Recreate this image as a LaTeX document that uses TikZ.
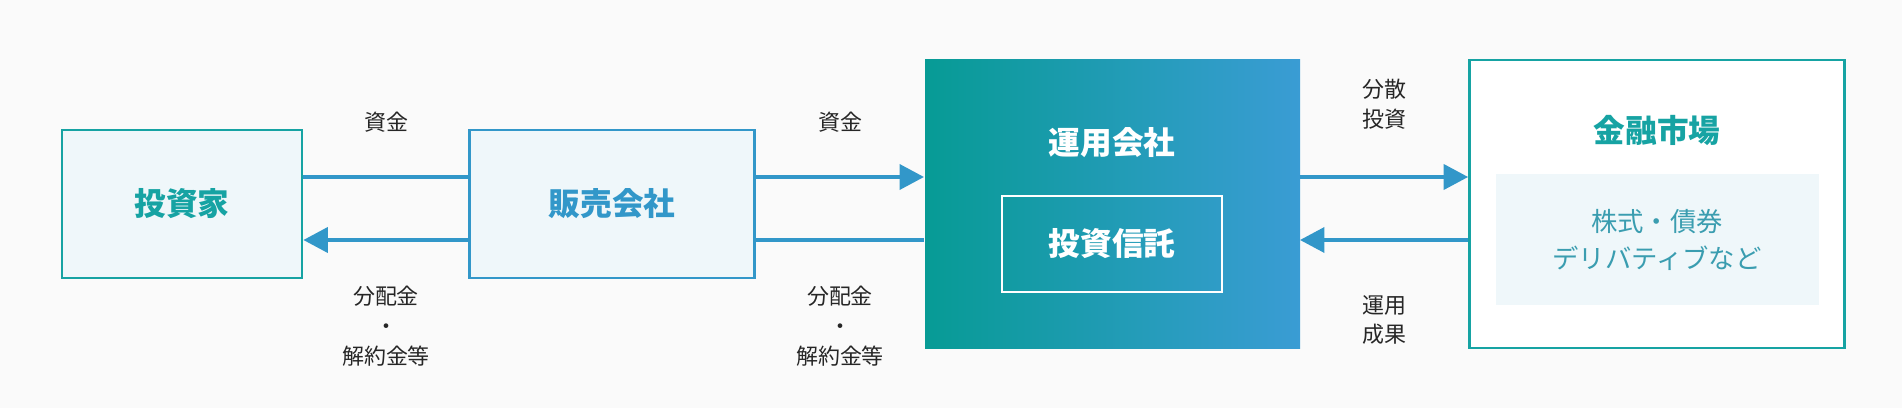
\documentclass[tikz,border=0pt]{standalone}
\usepackage{fontspec}
\setmainfont{Noto Sans CJK JP}
\usetikzlibrary{arrows.meta}
\definecolor{bg}{HTML}{FAFAFA}
\definecolor{teal}{HTML}{16A3A3}
\definecolor{blu}{HTML}{3297C9}
\definecolor{lfill}{HTML}{EFF7FA}
\definecolor{gA}{HTML}{079B95}
\definecolor{gB}{HTML}{3A9CD4}
\definecolor{mtext}{HTML}{3A9DB0}
\tikzset{x=0.02cm,y=-0.02cm,
 lbl/.style={font=\fontsize{12.5}{17}\selectfont,text=black!85,align=center},
 big/.style={font=\fontsize{18}{22}\selectfont\bfseries},
 conn/.style={blu,line width=2.8pt},
 head/.style={-{Triangle[length=14pt,width=14pt]}}}
\begin{document}
\begin{tikzpicture}
\fill[bg] (0,0) rectangle (1902,408);
\useasboundingbox (0,0) rectangle (1902,408);
\node[draw=teal,line width=1.4pt,fill=lfill,minimum width=240*0.02cm,minimum height=148*0.02cm,big,text=teal] (inv) at (182,204) {投資家};
\node[draw=blu,line width=1.4pt,fill=lfill,minimum width=285*0.02cm,minimum height=148*0.02cm,big,text=blu] (sales) at (612,204) {販売会社};
\shade[left color=gA,right color=gB] (925,60) rectangle (1300,348);
\node[inner sep=0,minimum width=375*0.02cm,minimum height=288*0.02cm] (mgr) at (1112,204) {};
\node[big,text=white] (mgrt) at (1112,143) {運用会社};
\node[draw=white,line width=1.4pt,minimum width=220*0.02cm,minimum height=96*0.02cm,big,text=white] (trust) at (1112,244) {投資信託};
\node[draw=teal,line width=1.4pt,fill=white,minimum width=375*0.02cm,minimum height=288*0.02cm] (mkt) at (1657,204) {};
\node[big,text=teal] (mktt) at (1657,130) {金融市場};
\node[fill=lfill,minimum width=323*0.02cm,minimum height=131*0.02cm,font=\fontsize{15}{21}\selectfont,text=mtext,align=center] (inner) at (1657,240) {株式・債券\\デリバティブなど};
\coordinate (a) at (0,177); \coordinate (b) at (0,240);
\draw[conn] (inv.east|-a) -- (sales.west|-a);
\draw[conn,head] (sales.west|-b) -- (inv.east|-b);
\draw[conn,head] (sales.east|-a) -- (mgr.west|-a);
\draw[conn] (mgr.west|-b) -- (sales.east|-b);
\draw[conn,head] (mgr.east|-a) -- (mkt.west|-a);
\draw[conn,head] (mkt.west|-b) -- (mgr.east|-b);
\node[lbl] (l1) at (386,122) {資金};
\node[lbl] (l2) at (386,326) {分配金\\・\\解約金等};
\node[lbl] (l3) at (840,122) {資金};
\node[lbl] (l4) at (840,326) {分配金\\・\\解約金等};
\node[lbl] (l5) at (1384,104) {分散\\投資};
\node[lbl] (l6) at (1384,320) {運用\\成果};
\end{tikzpicture}
\end{document}
